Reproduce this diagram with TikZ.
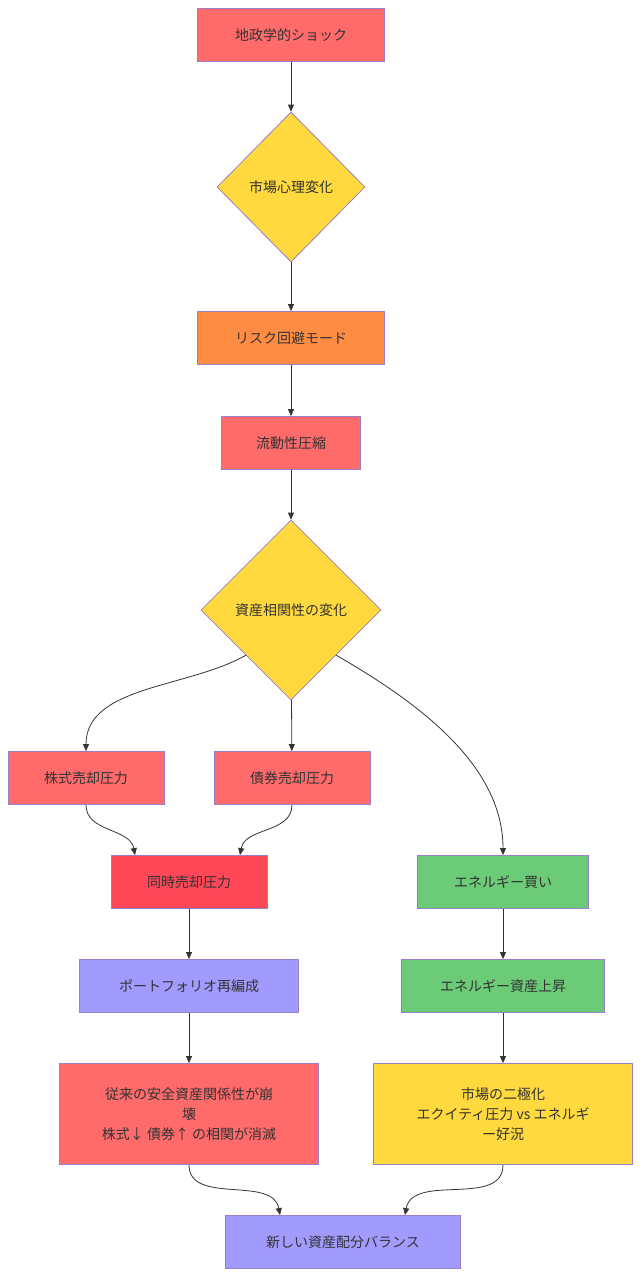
\documentclass[tikz,border=0pt]{standalone}
\usepackage{fontspec}
\setmainfont{Noto Sans CJK JP}
\usetikzlibrary{shapes.geometric,arrows.meta}
\definecolor{cred}{HTML}{FF6B6B}
\definecolor{cyel}{HTML}{FFD93D}
\definecolor{cora}{HTML}{FF8C42}
\definecolor{cgrn}{HTML}{6BCB77}
\definecolor{cpur}{HTML}{A29BFE}
\definecolor{cdred}{HTML}{FF4757}
\definecolor{cbrd}{HTML}{9A7FC8}
\begin{document}
\begin{tikzpicture}[x=1pt,y=-1pt,
  every node/.style={font=\fontsize{14}{20}\selectfont,text=black!80,draw=cbrd,line width=0.8pt,inner sep=0pt,align=center},
  box/.style={rectangle,minimum height=53pt},
  dia/.style={diamond,aspect=1,inner sep=0pt},
  ar/.style={draw=black!80,line width=0.8pt,-{Triangle[length=7pt,width=6pt]}}]
\path[use as bounding box] (0,0) rectangle (642,1278);
\node[box,fill=cred,minimum width=187pt] (A) at (291,35) {地政学的ショック};
\node[dia,fill=cyel,minimum width=148pt,minimum height=150pt] (B) at (291,187) {市場心理変化};
\node[box,fill=cora,minimum width=187pt] (C) at (291,338) {リスク回避モード};
\node[box,fill=cred,minimum width=139pt] (D) at (291,443) {流動性圧縮};
\node[dia,fill=cyel,minimum width=180pt,minimum height=180pt] (E) at (291,610) {資産相関性の変化};
\node[box,fill=cred,minimum width=156pt] (F) at (86,778) {株式売却圧力};
\node[box,fill=cred,minimum width=156pt] (G) at (292,778) {債券売却圧力};
\node[box,fill=cdred,minimum width=156pt] (H) at (189,882) {同時売却圧力};
\node[box,fill=cgrn,minimum width=171pt] (I) at (503,882) {エネルギー買い};
\node[box,fill=cpur,minimum width=219pt] (J) at (189,986) {ポートフォリオ再編成};
\node[box,fill=cgrn,minimum width=203pt] (K) at (503,986) {エネルギー資産上昇};
\node[box,fill=cred,minimum width=259pt,minimum height=101pt] (L) at (189,1114) {従来の安全資産関係性が崩\\壊\\株式↓ 債券↑ の相関が消滅};
\node[box,fill=cyel,minimum width=259pt,minimum height=101pt] (M) at (503,1114) {市場の二極化\\エクイティ圧力 vs エネルギ\\ー好況};
\node[box,fill=cpur,minimum width=235pt] (N) at (343,1242) {新しい資産配分バランス};
\draw[ar] (A) -- (B);
\draw[ar] (B) -- (C);
\draw[ar] (C) -- (D);
\draw[ar] (D) -- (E);
\draw[ar] (E.south west) to[out=210,in=90,looseness=0.9] (F.north);
\draw[ar] (E) -- (G);
\draw[ar] (E.south east) to[out=-30,in=90,looseness=0.9] (I.north);
\draw[ar] (F.south) to[out=-90,in=100] ([xshift=-54pt]H.north);
\draw[ar] (G.south) to[out=-90,in=80] ([xshift=51pt]H.north);
\draw[ar] (H) -- (J);
\draw[ar] (J) -- (L);
\draw[ar] (I) -- (K);
\draw[ar] (K) -- (M);
\draw[ar] (L.south) to[out=-90,in=100] ([xshift=-63pt]N.north);
\draw[ar] (M.south) to[out=-90,in=80] ([xshift=62pt]N.north);
\end{tikzpicture}
\end{document}
